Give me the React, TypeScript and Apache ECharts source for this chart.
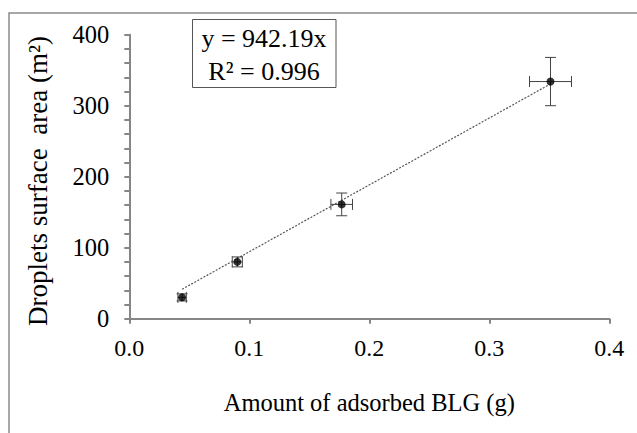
import React, { useEffect, useRef } from "react";
import * as echarts from "echarts";

const xValues = [0.044, 0.09, 0.177, 0.351];
const yValues = [30, 80, 161, 334];
const xErrors = [0.0035, 0.0042, 0.009, 0.0175];
const yErrors = [5, 7, 16, 34];
const trendX = [0.044, 0.351];
const trendY = [41.5, 330.7];
const xTicks = [0, 0.1, 0.2, 0.3, 0.4];
const yTicks = [0, 100, 200, 300, 400];
const equationLines = ["y = 942.19x", "R² = 0.996"];
const xTitle = "Amount of adsorbed BLG (g)";
const yTitle = "Droplets surface  area (m²)";

const FONT = "Times New Roman, Liberation Serif, serif";

export default function App() {
  const ref = useRef<HTMLDivElement>(null);
  useEffect(() => {
    if (!ref.current) return;
    const chart = echarts.init(ref.current, null, { renderer: "svg" });
    const points = xValues.map((x, i) => [x, yValues[i]]);
    const errData = xValues.map((x, i) => [x, yValues[i], xErrors[i], yErrors[i]]);
    const cap = 5.5;
    chart.setOption({
      animation: false,
      backgroundColor: "#ffffff",
      textStyle: { fontFamily: FONT },
      grid: { left: 129.3, right: 27.7, top: 34.7, bottom: 114.3, containLabel: false },
      xAxis: {
        type: "value",
        min: xTicks[0],
        max: xTicks[xTicks.length - 1],
        interval: 0.1,
        name: xTitle,
        nameLocation: "middle",
        nameGap: 71,
        nameTextStyle: { fontFamily: FONT, fontSize: 24.5, color: "#000" },
        axisLine: { onZero: false, lineStyle: { color: "#868686", width: 2 } },
        axisTick: { show: true, length: 5, lineStyle: { color: "#868686", width: 2 } },
        axisLabel: {
          margin: 17,
          fontFamily: FONT,
          fontSize: 24,
          color: "#000",
          formatter: (v: number) => v.toFixed(1),
        },
        splitLine: { show: false },
      },
      yAxis: {
        type: "value",
        min: yTicks[0],
        max: yTicks[yTicks.length - 1],
        interval: 100,
        axisLine: { lineStyle: { color: "#868686", width: 2 } },
        axisTick: { show: true, length: 5, lineStyle: { color: "#868686", width: 2 } },
        minorTick: { show: true, splitNumber: 5, length: 5, lineStyle: { color: "#868686", width: 2 } },
        axisLabel: { margin: 20, fontFamily: FONT, fontSize: 24.5, color: "#000" },
        splitLine: { show: false },
      },
      graphic: [
        {
          type: "rect",
          shape: { x: 9, y: 13, width: 800, height: 600 },
          style: { fill: "none", stroke: "#8a8a8a", lineWidth: 1.5 },
          silent: true,
          z: -1,
        },
        {
          type: "text",
          x: 38,
          y: 181,
          rotation: Math.PI / 2,
          style: {
            text: yTitle,
            font: "27px " + FONT,
            fill: "#000",
            align: "center",
            verticalAlign: "middle",
          },
        },
        {
          type: "rect",
          shape: { x: 192.5, y: 19.5, width: 143.5, height: 68 },
          style: { fill: "#ffffff", stroke: "#555555", lineWidth: 1 },
          z: 10,
        },
        {
          type: "text",
          x: 264,
          y: 38,
          z: 11,
          style: {
            text: equationLines[0],
            font: "26px " + FONT,
            fill: "#000",
            align: "center",
            verticalAlign: "middle",
          },
        },
        {
          type: "text",
          x: 264,
          y: 71.5,
          z: 11,
          style: {
            text: equationLines[1],
            font: "26px " + FONT,
            fill: "#000",
            align: "center",
            verticalAlign: "middle",
          },
        },
      ],
      series: [
        {
          type: "line",
          data: trendX.map((x, i) => [x, trendY[i]]),
          symbol: "none",
          lineStyle: { color: "#555555", width: 1.2, type: [2, 1.5] },
          z: 1,
        },
        {
          type: "custom",
          data: errData,
          z: 2,
          renderItem: (params: any, api: any) => {
            const x = api.value(0);
            const y = api.value(1);
            const ex = api.value(2);
            const ey = api.value(3);
            const c = api.coord([x, y]);
            const l = api.coord([x - ex, y]);
            const r = api.coord([x + ex, y]);
            const t = api.coord([x, y + ey]);
            const b = api.coord([x, y - ey]);
            const style = { stroke: "#444444", lineWidth: 1, fill: "none" };
            return {
              type: "group",
              children: [
                { type: "line", shape: { x1: l[0], y1: c[1], x2: r[0], y2: c[1] }, style },
                { type: "line", shape: { x1: l[0], y1: c[1] - cap, x2: l[0], y2: c[1] + cap }, style },
                { type: "line", shape: { x1: r[0], y1: c[1] - cap, x2: r[0], y2: c[1] + cap }, style },
                { type: "line", shape: { x1: c[0], y1: t[1], x2: c[0], y2: b[1] }, style },
                { type: "line", shape: { x1: c[0] - cap, y1: t[1], x2: c[0] + cap, y2: t[1] }, style },
                { type: "line", shape: { x1: c[0] - cap, y1: b[1], x2: c[0] + cap, y2: b[1] }, style },
              ],
            };
          },
        },
        {
          type: "scatter",
          data: points,
          symbol: "circle",
          symbolSize: 8,
          itemStyle: { color: "#000000" },
          z: 3,
        },
      ],
    });
    return () => chart.dispose();
  }, []);
  return (
    <div
      ref={ref}
      style={{ position: "fixed", left: 0, top: 0, width: 637, height: 433, background: "#fff" }}
    />
  );
}
